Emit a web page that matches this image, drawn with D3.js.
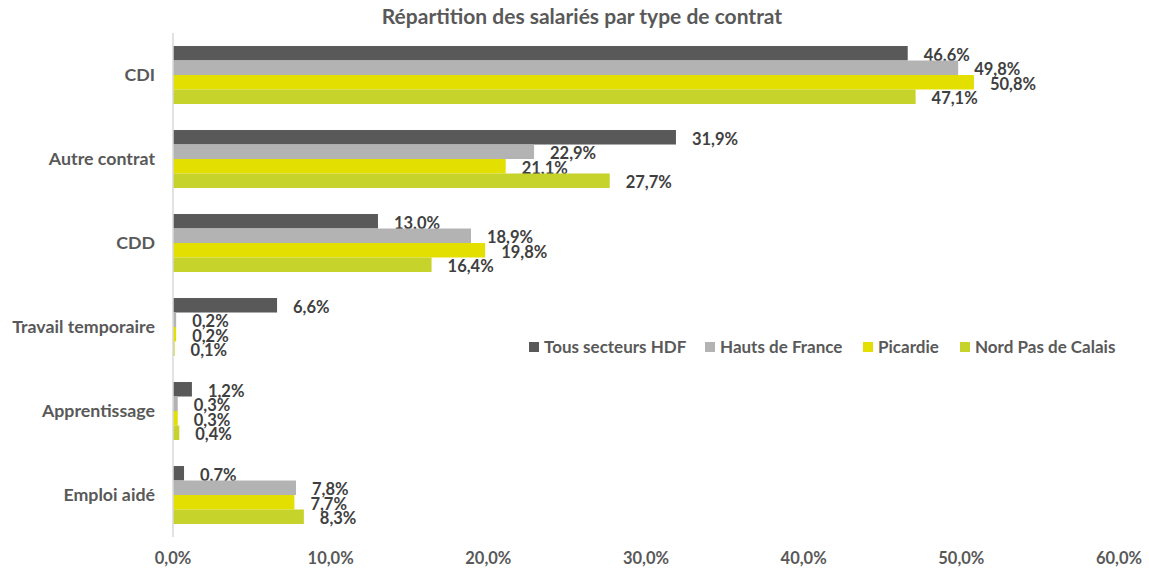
<!DOCTYPE html>
<html>
<head>
<meta charset="utf-8">
<script src="https://cdn.jsdelivr.net/npm/d3@7"></script>
<style>
  body { margin: 0; background: #fff; }
  text { font-family: Lato, "Open Sans", sans-serif; font-weight: bold; }
</style>
</head>
<body>
<div class="container__chart"></div>
<script>
// data
const categories = ["CDI", "Autre contrat", "CDD", "Travail temporaire", "Apprentissage", "Emploi aidé"];
const seriesNames = ["Tous secteurs HDF", "Hauts de France", "Picardie", "Nord Pas de Calais"];
const tousSecteurs = [46.6, 31.9, 13.0, 6.6, 1.2, 0.7];
const hautsDeFrance = [49.8, 22.9, 18.9, 0.2, 0.3, 7.8];
const picardie = [50.8, 21.1, 19.8, 0.2, 0.3, 7.7];
const nordPasDeCalais = [47.1, 27.7, 16.4, 0.1, 0.4, 8.3];
const xTicks = [0, 10, 20, 30, 40, 50, 60];

const CHART_WIDTH = 1149;
const CHART_HEIGHT = 571;
const colors = ["#595959", "#b3b3b3", "#e3df00", "#c6d32b"];
const seriesValues = [tousSecteurs, hautsDeFrance, picardie, nordPasDeCalais];

const fmt = v => v.toFixed(1).replace(".", ",") + "%";

const svg = d3.select(".container__chart")
    .append("svg")
    .attr("width", CHART_WIDTH)
    .attr("height", CHART_HEIGHT)

const xScale = d3.scaleLinear().domain([0, 60]).range([173, 1119]);
const yScale = d3.scaleBand().domain(categories).range([33, 537]).paddingInner(0.31).paddingOuter(0.155);
const innerScale = d3.scaleBand().domain(seriesNames).range([0, yScale.bandwidth()]);

//title
svg.append("text")
    .attr("x", 582)
    .attr("y", 24)
    .attr("text-anchor", "middle")
    .style("font-size", "21px")
    .style("fill", "#595959")
    .text("Répartition des salariés par type de contrat")

//bars
const groups = svg.selectAll(".group")
    .data(categories)
    .enter()
    .append("g")
    .attr("transform", c => `translate(0,${yScale(c)})`)

seriesNames.forEach((name, si) => {
    groups.append("rect")
        .attr("x", xScale(0))
        .attr("y", innerScale(name))
        .attr("height", innerScale.bandwidth())
        .attr("width", (c, i) => xScale(seriesValues[si][i]) - xScale(0))
        .style("fill", colors[si])

    groups.append("text")
        .attr("x", (c, i) => xScale(seriesValues[si][i]) + 16)
        .attr("y", innerScale(name) + innerScale.bandwidth() / 2 + 1.5)
        .attr("dy", "0.35em")
        .style("font-size", "16.5px")
        .style("fill", "#404040")
        .text((c, i) => fmt(seriesValues[si][i]))
})

//y axis line
svg.append("line")
    .attr("x1", xScale(0)).attr("x2", xScale(0))
    .attr("y1", 33).attr("y2", 537)
    .style("stroke", "#d9d9d9")
    .style("stroke-width", 1.5)

//category labels
svg.selectAll(".cat")
    .data(categories)
    .enter()
    .append("text")
    .attr("x", 155)
    .attr("y", c => yScale(c) + yScale.bandwidth() / 2)
    .attr("dy", "0.35em")
    .attr("text-anchor", "end")
    .style("font-size", "17.8px")
    .style("fill", "#595959")
    .text(c => c)

//x tick labels
svg.selectAll(".tick-label")
    .data(xTicks)
    .enter()
    .append("text")
    .attr("x", d => xScale(d))
    .attr("y", 564)
    .attr("text-anchor", "middle")
    .style("font-size", "16.5px")
    .style("fill", "#595959")
    .text(d => d.toFixed(1).replace(".", ",") + "%")

//legend
const legendX = [529, 705, 863, 960];
const legend = svg.selectAll(".legend")
    .data(seriesNames)
    .enter()
    .append("g")
    .attr("transform", (d, i) => `translate(${legendX[i]},347)`)

legend.append("rect")
    .attr("x", 0).attr("y", -5)
    .attr("width", 10).attr("height", 10)
    .style("fill", (d, i) => colors[i])

legend.append("text")
    .attr("x", 15)
    .attr("dy", "0.35em")
    .style("font-size", "17px")
    .style("fill", "#595959")
    .text(d => d)
</script>
</body>
</html>
